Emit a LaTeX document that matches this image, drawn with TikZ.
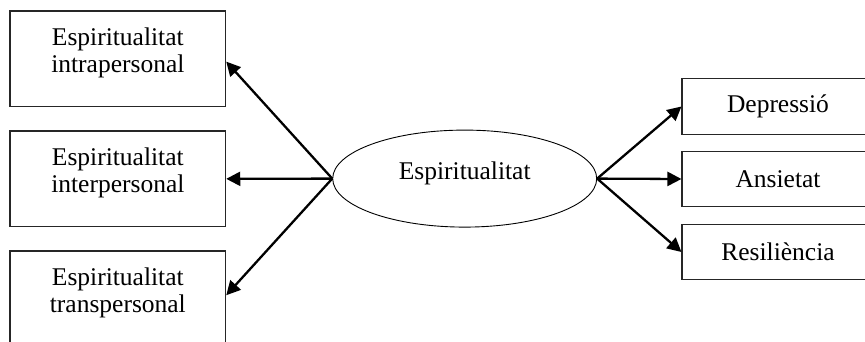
\documentclass[tikz,border=0pt]{standalone}
\usepackage{fontspec}
\setmainfont{Liberation Serif}
\usetikzlibrary{arrows.meta,shapes.geometric,calc}
\begin{document}
\begin{tikzpicture}[x=1pt,y=-1pt,
  boxl/.style={draw=black!85,line width=1.1pt,minimum width=215.7pt,minimum height=95.7pt,inner sep=0pt},
  boxr/.style={draw=black!85,line width=1.1pt,minimum width=192pt,minimum height=55.5pt,inner sep=0pt},
  lbl/.style={font=\fontsize{25.5}{27}\selectfont,align=center,inner sep=0pt},
  link/.style={line width=2.3pt,-{Triangle[length=14pt,width=14pt]}}]
\useasboundingbox (0,0) rectangle (865,342);
% left group
\node[boxl] (b1) at (117.85,58.85) {};
\node[boxl] (b2) at (117.85,178.85) {};
\node[boxl] (b3) at (117.85,298.85) {};
\node[lbl] (t1) at (117.85,52.4) {Espiritualitat\\intrapersonal};
\node[lbl] (t2) at (117.85,172.4) {Espiritualitat\\interpersonal};
\node[lbl] (t3) at (117.85,292.4) {Espiritualitat\\transpersonal};
% central construct
\node[ellipse,draw,line width=0.9pt,minimum width=264pt,minimum height=97pt,inner sep=0pt] (E) at (464.7,178.6) {};
\node[lbl,anchor=base] (te) at (464.7,179) {Espiritualitat};
% right group
\node[boxr,lbl] (r1) at (778,106.5) {Depressió};
\node[boxr,lbl] (r2) at (778,179) {Ansietat};
\node[boxr,lbl] (r3) at (778,252) {Resiliència};
% arrow targets on the left boxes
\coordinate (p1) at ($(b1.east)+(0,2.8)$);
\coordinate (p3) at ($(b3.east)+(0,-3.6)$);
% connectors
\draw[link] (E.west) -- (p1);
\draw[link] (E.west) -- (b2.east);
\draw[link] (E.west) -- (p3);
\draw[link] (E.east) -- (r1.west);
\draw[link] (E.east) -- (r2.west);
\draw[link] (E.east) -- (r3.west);
\end{tikzpicture}
\end{document}
